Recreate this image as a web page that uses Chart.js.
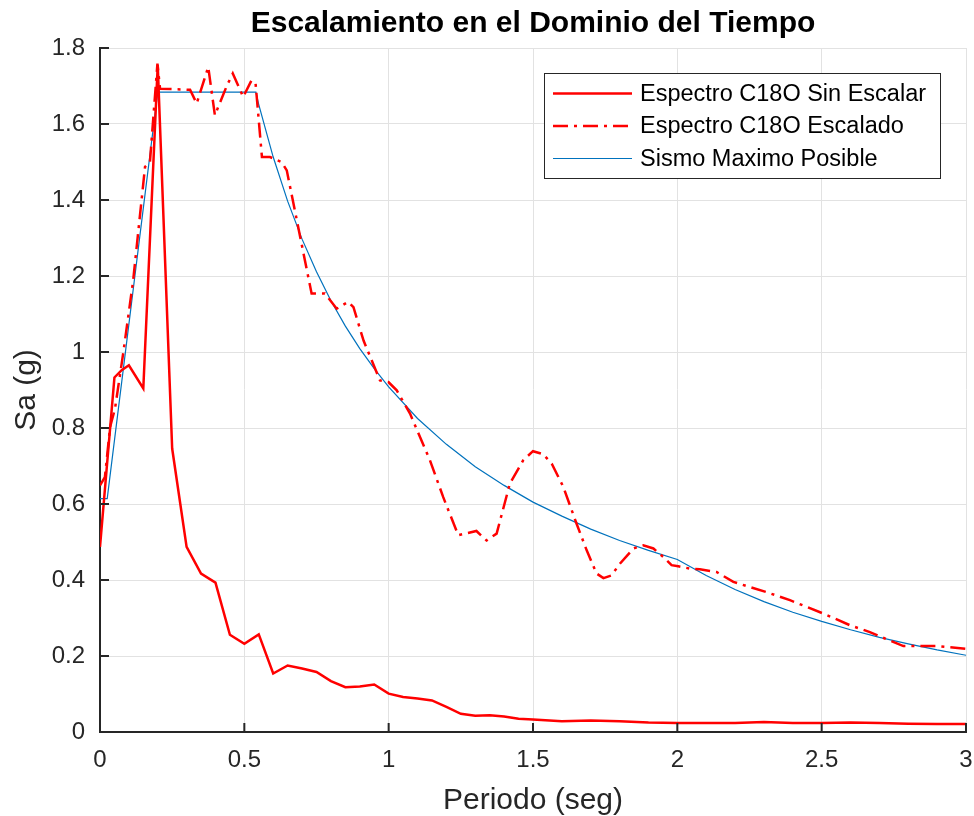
<!DOCTYPE html>
<html>
<head>
<meta charset="utf-8">
<script src="https://cdn.jsdelivr.net/npm/chart.js@4"></script>
<style>
  html, body { margin: 0; padding: 0; background: #fff; }
  #wrap { width: 974px; height: 816px; }
</style>
</head>
<body>
<div id="wrap"><canvas id="canvasEspectro"></canvas></div>
<script>
// Espectro C18O sin escalar
const tSin = [0, 0.05, 0.075, 0.1, 0.15, 0.2, 0.25, 0.3, 0.35, 0.4, 0.45, 0.5, 0.55, 0.6, 0.65, 0.7, 0.75, 0.8, 0.85, 0.9, 0.95, 1.0, 1.05, 1.1, 1.15, 1.2, 1.25, 1.3, 1.35, 1.4, 1.45, 1.5, 1.6, 1.7, 1.8, 1.9, 2.0, 2.1, 2.2, 2.3, 2.4, 2.5, 2.6, 2.7, 2.8, 2.9, 3.0];
const saSin = [0.487, 0.933, 0.952, 0.965, 0.904, 1.755, 0.746, 0.487, 0.417, 0.393, 0.256, 0.232, 0.257, 0.154, 0.175, 0.167, 0.158, 0.134, 0.118, 0.120, 0.125, 0.101, 0.092, 0.088, 0.083, 0.066, 0.048, 0.043, 0.044, 0.041, 0.035, 0.033, 0.028, 0.030, 0.028, 0.025, 0.024, 0.024, 0.024, 0.026, 0.024, 0.024, 0.025, 0.024, 0.022, 0.021, 0.021];

// Espectro C18O escalado
const tEsc = [0, 0.017, 0.035, 0.052, 0.081, 0.115, 0.156, 0.173, 0.199, 0.208, 0.25, 0.312, 0.335, 0.375, 0.398, 0.439, 0.46, 0.496, 0.525, 0.539, 0.561, 0.589, 0.629, 0.647, 0.733, 0.779, 0.82, 0.86, 0.878, 0.913, 0.97, 0.999, 1.028, 1.074, 1.143, 1.189, 1.241, 1.304, 1.339, 1.374, 1.42, 1.466, 1.5, 1.535, 1.565, 1.605, 1.651, 1.686, 1.72, 1.744, 1.772, 1.801, 1.848, 1.882, 1.917, 1.951, 1.98, 2.003, 2.044, 2.078, 2.136, 2.194, 2.309, 2.39, 2.505, 2.598, 2.667, 2.713, 2.783, 2.898, 3.0];
const saEsc = [0.649, 0.671, 0.803, 0.851, 1.0, 1.189, 1.487, 1.5, 1.759, 1.693, 1.692, 1.69, 1.654, 1.75, 1.623, 1.70, 1.733, 1.671, 1.715, 1.706, 1.513, 1.513, 1.5, 1.478, 1.154, 1.154, 1.114, 1.132, 1.118, 1.03, 0.925, 0.921, 0.899, 0.838, 0.715, 0.618, 0.518, 0.529, 0.504, 0.522, 0.654, 0.715, 0.739, 0.731, 0.706, 0.645, 0.548, 0.478, 0.417, 0.405, 0.412, 0.443, 0.483, 0.491, 0.483, 0.461, 0.439, 0.436, 0.43, 0.428, 0.421, 0.395, 0.368, 0.347, 0.312, 0.281, 0.263, 0.248, 0.226, 0.226, 0.219];

// Sismo maximo posible
const tSmp = [0, 0.025, 0.2, 0.54, 0.55, 0.6, 0.65, 0.7, 0.75, 0.8, 0.85, 0.9, 0.95, 1.0, 1.1, 1.2, 1.3, 1.4, 1.5, 1.6, 1.7, 1.8, 1.9, 2.0, 2.1, 2.2, 2.3, 2.4, 2.5, 2.6, 2.7, 2.8, 2.9, 3.0];
const saSmp = [0.614, 0.614, 1.684, 1.684, 1.651, 1.513, 1.397, 1.297, 1.211, 1.135, 1.068, 1.009, 0.956, 0.908, 0.825, 0.757, 0.698, 0.649, 0.605, 0.568, 0.534, 0.504, 0.478, 0.454, 0.412, 0.375, 0.343, 0.315, 0.291, 0.269, 0.249, 0.232, 0.216, 0.202];

const xTicks = [0, 0.5, 1, 1.5, 2, 2.5, 3];
const yTicks = [0, 0.2, 0.4, 0.6, 0.8, 1, 1.2, 1.4, 1.6, 1.8];

const textColor = '#262626';
const fuente = 'Arial, "Liberation Sans", Helvetica, sans-serif';

function pares(xs, ys) {
    return xs.map((x, i) => ({ x: x, y: ys[i] }));
}

// ticks hacia adentro como en matlab
const ticksAdentro = {
    id: 'ticksAdentro',
    afterDatasetsDraw(chart) {
        const ctx = chart.ctx;
        const a = chart.chartArea;
        const sx = chart.scales.x, sy = chart.scales.y;
        ctx.save();
        ctx.strokeStyle = textColor;
        ctx.lineWidth = 2;
        ctx.beginPath();
        xTicks.forEach(v => {
            const px = sx.getPixelForValue(v);
            ctx.moveTo(px, a.bottom);
            ctx.lineTo(px, a.bottom - 9);
        });
        yTicks.forEach(v => {
            const py = sy.getPixelForValue(v);
            ctx.moveTo(a.left, py);
            ctx.lineTo(a.left + 9, py);
        });
        ctx.stroke();
        ctx.restore();
    }
};

// leyenda dentro del grafico
const leyendaCaja = {
    id: 'leyendaCaja',
    afterDatasetsDraw(chart) {
        const ctx = chart.ctx;
        const x0 = 544.5, y0 = 73.5, w = 396, h = 105;
        ctx.save();
        ctx.fillStyle = '#ffffff';
        ctx.fillRect(x0, y0, w, h);
        ctx.strokeStyle = textColor;
        ctx.lineWidth = 1;
        ctx.strokeRect(x0, y0, w, h);
        chart.data.datasets.forEach((ds, i) => {
            const yy = y0 + 20 + i * 32.5;
            ctx.strokeStyle = ds.borderColor;
            ctx.lineWidth = ds.borderWidth;
            ctx.setLineDash(ds.borderDash || []);
            ctx.beginPath();
            ctx.moveTo(553, yy);
            ctx.lineTo(632, yy);
            ctx.stroke();
            ctx.setLineDash([]);
            ctx.fillStyle = '#000';
            ctx.font = '23.5px ' + fuente;
            ctx.textBaseline = 'middle';
            ctx.fillText(ds.label, 640, yy + 1);
        });
        ctx.restore();
    }
};

let ctxEspectro = document.getElementById('canvasEspectro').getContext('2d');
let chart = new Chart(ctxEspectro, {
    type: 'line',
    data: {
        datasets: [
            {
                label: 'Espectro C18O Sin Escalar',
                data: pares(tSin, saSin),
                borderColor: '#ff0000',
                borderWidth: 2.5,
                pointRadius: 0,
                tension: 0
            },
            {
                label: 'Espectro C18O Escalado',
                data: pares(tEsc, saEsc),
                borderColor: '#ff0000',
                borderWidth: 2.5,
                borderDash: [15, 6, 3, 6],
                pointRadius: 0,
                tension: 0
            },
            {
                label: 'Sismo Maximo Posible',
                data: pares(tSmp, saSmp),
                borderColor: '#0072bd',
                borderWidth: 1.2,
                pointRadius: 0,
                tension: 0
            }
        ]
    },
    options: {
        responsive: true,
        maintainAspectRatio: false,
        animation: false,
        events: [],
        layout: { padding: { left: 0, right: 0, top: 0, bottom: 0 } },
        plugins: {
            legend: { display: false },
            tooltip: { enabled: false },
            title: {
                display: true,
                fullSize: false,
                text: 'Escalamiento en el Dominio del Tiempo',
                color: '#000',
                font: { family: fuente, size: 30, weight: 'bold' },
                padding: { top: 6, bottom: 6 }
            }
        },
        scales: {
            x: {
                type: 'linear',
                min: 0,
                max: 3,
                afterBuildTicks: s => { s.ticks = xTicks.map(v => ({ value: v })); },
                afterFit: s => { s.height = 84; s.paddingLeft = 0; s.paddingRight = 8; },
                ticks: {
                    color: textColor,
                    font: { family: fuente, size: 24 },
                    padding: 14,
                    maxRotation: 0,
                    callback: v => String(v)
                },
                grid: { color: '#e2e2e2', lineWidth: 1, drawTicks: false },
                border: { display: true, color: textColor, width: 2 },
                title: {
                    display: true,
                    text: 'Periodo (seg)',
                    color: textColor,
                    font: { family: fuente, size: 30, lineHeight: 1 },
                    padding: { top: 0, bottom: 0 }
                }
            },
            y: {
                min: 0,
                max: 1.8,
                afterBuildTicks: s => { s.ticks = yTicks.map(v => ({ value: v })); },
                afterFit: s => { s.width = 100; },
                ticks: {
                    color: textColor,
                    font: { family: fuente, size: 24 },
                    padding: 15,
                    callback: v => String(Number(v.toFixed(1)))
                },
                grid: { color: '#e2e2e2', lineWidth: 1, drawTicks: false },
                border: { display: true, color: textColor, width: 2 },
                title: {
                    display: true,
                    text: 'Sa (g)',
                    color: textColor,
                    font: { family: fuente, size: 30, lineHeight: 1 },
                    padding: { top: 12, bottom: 0 }
                }
            }
        }
    },
    plugins: [ticksAdentro, leyendaCaja]
});
</script>
</body>
</html>
